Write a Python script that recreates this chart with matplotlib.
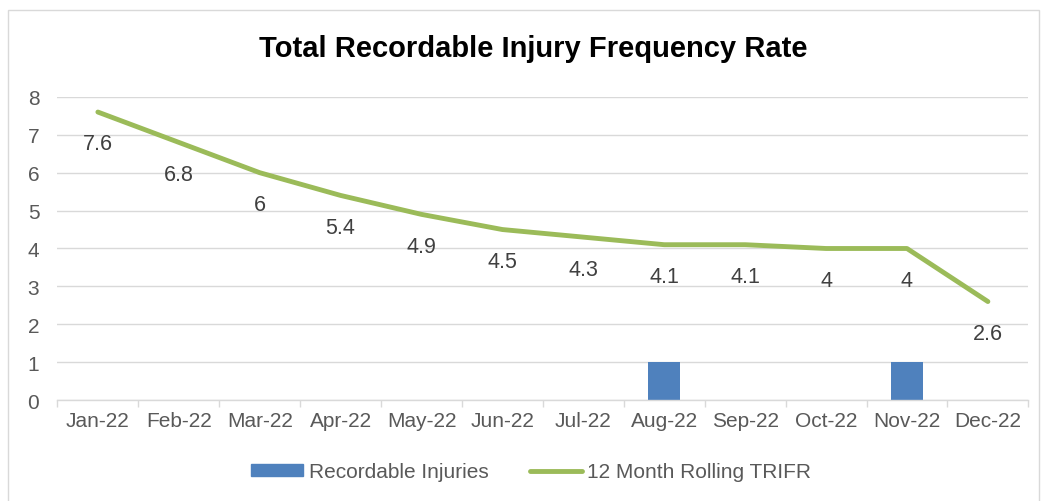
import matplotlib.pyplot as plt
import numpy as np
from matplotlib.patches import Rectangle
from matplotlib.lines import Line2D

plt.rcParams['font.family'] = ['Liberation Sans', 'DejaVu Sans']

months = ['Jan-22', 'Feb-22', 'Mar-22', 'Apr-22', 'May-22', 'Jun-22',
          'Jul-22', 'Aug-22', 'Sep-22', 'Oct-22', 'Nov-22', 'Dec-22']
injuries = [0, 0, 0, 0, 0, 0, 0, 1, 0, 0, 1, 0]
trifr = [7.6, 6.8, 6, 5.4, 4.9, 4.5, 4.3, 4.1, 4.1, 4, 4, 2.6]

bar_color = '#4F81BD'
line_color = '#9BBB59'
text_color = '#595959'
grid_color = '#D9D9D9'

fig = plt.figure(figsize=(10.44, 5.02), dpi=100)
ax = fig.add_axes([0.055, 0.201, 0.930, 0.604])

x = np.arange(len(months))
ax.bar(x, injuries, width=0.4, color=bar_color, zorder=2)
ax.plot(x, trifr, color=line_color, linewidth=3.5, solid_capstyle='round', zorder=3)

for xi, v in zip(x, trifr):
    ax.annotate(f'{v:g}', (xi, v), xytext=(0, -23), textcoords='offset points',
                ha='center', va='center', fontsize=15.5, color='#404040')

ax.set_xlim(-0.5, len(months) - 0.5)
ax.set_ylim(0, 8)
ax.set_yticks(range(0, 9))
ax.set_xticks(x)
ax.set_xticklabels(months)
ax.set_xticks(np.arange(-0.5, len(months)), minor=True)
ax.tick_params(axis='x', which='major', length=0, pad=8, labelsize=15, labelcolor=text_color)
ax.tick_params(axis='x', which='minor', length=5, color=grid_color, width=1)
ax.tick_params(axis='y', length=0, pad=13, labelsize=15, labelcolor=text_color)

ax.grid(axis='y', color=grid_color, linewidth=1, zorder=0)
ax.set_axisbelow(True)
for s in ['top', 'right', 'left']:
    ax.spines[s].set_visible(False)
ax.spines['bottom'].set_color(grid_color)
ax.spines['bottom'].set_linewidth(1)

fig.text(0.511, 0.902, 'Total Recordable Injury Frequency Rate', ha='center', va='center',
         fontsize=21, fontweight='bold', color='black')

handles = [Rectangle((0, 0), 1, 1, color=bar_color),
           Line2D([0], [0], color=line_color, linewidth=3.5, solid_capstyle='round')]
fig.legend(handles, ['Recordable Injuries', '12 Month Rolling TRIFR'],
           loc='center', bbox_to_anchor=(0.509, 0.058), ncol=2, frameon=False,
           fontsize=15, labelcolor=text_color, handlelength=2.5, handleheight=0.5,
           columnspacing=2.0, handletextpad=0.25)

fig.patches.append(Rectangle((0.008, -0.01), 0.987, 0.988, transform=fig.transFigure,
                             fill=False, edgecolor='#D9D9D9', linewidth=1))

fig.savefig('out.png', dpi=100)
